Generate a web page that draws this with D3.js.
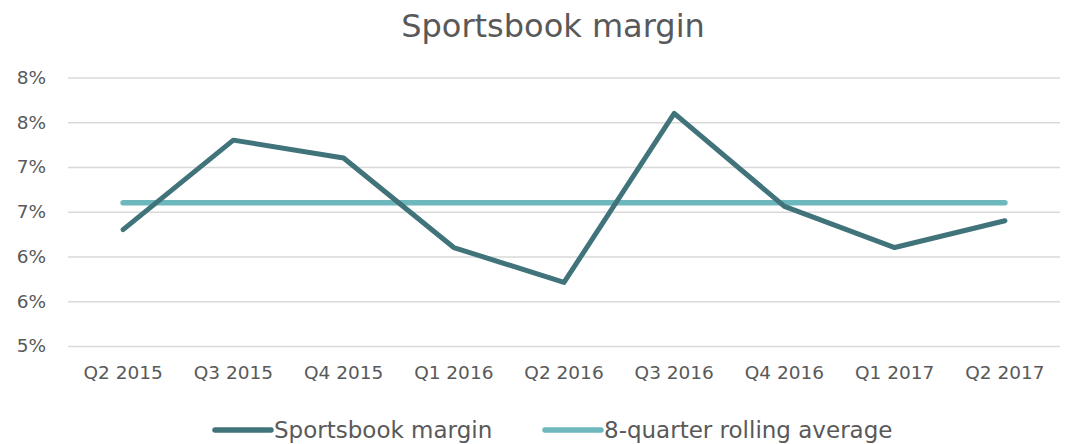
<!doctype html>
<html lang="en">
<head>
    <meta charset="UTF-8" />
    <title>Sportsbook margin</title>
    <style>
        body {
            margin: 0;
            background: #fff;
            font-family: 'DejaVu Sans', sans-serif;
        }

        .grid line {
            stroke: #d9d9d9;
            stroke-width: 1.5px;
        }

        .axis-label {
            fill: #595959;
        }
    </style>
    <script src="https://d3js.org/d3.v7.min.js"></script>
</head>
<body>
    <div id="chart-container"></div>
    <script>
        var quarters = ['Q2 2015', 'Q3 2015', 'Q4 2015', 'Q1 2016', 'Q2 2016', 'Q3 2016', 'Q4 2016', 'Q1 2017', 'Q2 2017'];
        var margin = [6.30, 7.30, 7.10, 6.10, 5.71, 7.60, 6.56, 6.10, 6.40];
        var rollingAvg = [6.60, 6.60, 6.60, 6.60, 6.60, 6.60, 6.60, 6.60, 6.60];
        var yTicks = [5, 5.5, 6, 6.5, 7, 7.5, 8];
        var seriesNames = ['Sportsbook margin', '8-quarter rolling average'];
        var seriesColors = ['#41737a', '#6cb8bd'];

        var canvasWidth = 1091;
        var canvasHeight = 444;
        var plot = { left: 68, right: 1060, top: 77.5, bottom: 346 };

        var svg = d3
            .select('#chart-container')
            .append('svg')
            .attr('width', canvasWidth)
            .attr('height', canvasHeight);

        var xScale = d3
            .scaleBand()
            .domain(quarters)
            .range([plot.left, plot.right]);

        var yScale = d3
            .scaleLinear()
            .domain([5, 8])
            .range([plot.bottom, plot.top]);

        // title
        svg.append('text')
            .attr('x', 553)
            .attr('y', 37)
            .attr('text-anchor', 'middle')
            .attr('font-size', '32px')
            .attr('fill', '#595959')
            .text('Sportsbook margin');

        // gridlines + y labels
        var grid = svg.append('g')
            .attr('class', 'grid')
            .attr('transform', 'translate(' + plot.left + ',0)')
            .call(d3.axisLeft(yScale)
                .tickValues(yTicks)
                .tickSize(-(plot.right - plot.left))
                .tickPadding(22)
                .tickFormat(function (d) { return Math.round(d) + '%'; }));
        grid.select('.domain').remove();
        grid.selectAll('text')
            .attr('class', 'axis-label')
            .attr('font-size', '18.5px')
            .attr('font-family', "'DejaVu Sans', sans-serif");

        // x labels
        var xAxis = svg.append('g')
            .attr('transform', 'translate(0,' + plot.bottom + ')')
            .call(d3.axisBottom(xScale).tickSize(0).tickPadding(20));
        xAxis.select('.domain').remove();
        xAxis.selectAll('text')
            .attr('class', 'axis-label')
            .attr('font-size', '18.5px')
            .attr('font-family', "'DejaVu Sans', sans-serif");

        var line = d3.line()
            .x(function (d, i) { return xScale(quarters[i]) + xScale.bandwidth() / 2; })
            .y(function (d) { return yScale(d); });

        svg.append('path')
            .datum(rollingAvg)
            .attr('fill', 'none')
            .attr('stroke', seriesColors[1])
            .attr('stroke-width', 5.5)
            .attr('stroke-linecap', 'round')
            .attr('d', line);

        svg.append('path')
            .datum(margin)
            .attr('fill', 'none')
            .attr('stroke', seriesColors[0])
            .attr('stroke-width', 5)
            .attr('stroke-linecap', 'round')
            .attr('stroke-linejoin', 'round')
            .attr('d', line);

        // legend
        var legendX = [215, 545];
        var legend = svg.append('g');
        seriesNames.forEach(function (name, i) {
            legend.append('line')
                .attr('x1', legendX[i])
                .attr('x2', legendX[i] + 56)
                .attr('y1', 430)
                .attr('y2', 430)
                .attr('stroke', seriesColors[i])
                .attr('stroke-width', 5.5)
                .attr('stroke-linecap', 'round');
            legend.append('text')
                .attr('x', legendX[i] + 59)
                .attr('y', 438)
                .attr('font-size', '23px')
                .attr('fill', '#595959')
                .text(name);
        });
    </script>
</body>
</html>
